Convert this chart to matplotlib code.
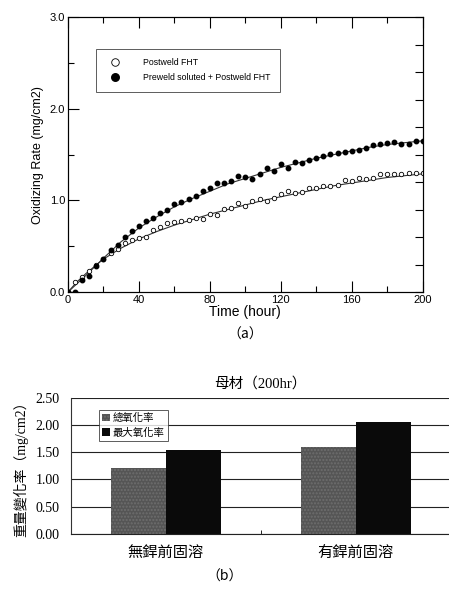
import numpy as np
import matplotlib
matplotlib.use("Agg")
import matplotlib.pyplot as plt
import matplotlib.ticker as tck

# ---- panel (a) data: oxidation vs time ----
hours = list(range(0, 201, 4))
postweld = [0.0, 0.11, 0.165, 0.23, 0.30, 0.36, 0.43, 0.47, 0.53, 0.57,
            0.59, 0.60, 0.68, 0.71, 0.75, 0.76, 0.78, 0.79, 0.81, 0.80,
            0.85, 0.84, 0.91, 0.92, 0.97, 0.94, 0.99, 1.01, 0.99, 1.03,
            1.07, 1.10, 1.08, 1.09, 1.13, 1.13, 1.16, 1.16, 1.17, 1.22,
            1.21, 1.24, 1.23, 1.24, 1.29, 1.29, 1.29, 1.29, 1.30, 1.30, 1.30]
preweld = [0.0, 0.0, 0.136, 0.17, 0.28, 0.36, 0.46, 0.51, 0.60, 0.67,
           0.72, 0.77, 0.81, 0.86, 0.89, 0.96, 0.98, 1.01, 1.05, 1.10,
           1.14, 1.19, 1.19, 1.21, 1.27, 1.25, 1.23, 1.29, 1.35, 1.32,
           1.40, 1.35, 1.42, 1.41, 1.44, 1.46, 1.48, 1.51, 1.52, 1.53,
           1.54, 1.55, 1.57, 1.60, 1.61, 1.63, 1.64, 1.62, 1.62, 1.65, 1.65]

# fitted curves
fit_t = [0, 5, 10, 20, 30, 40, 50, 60, 70, 80, 90, 100, 110, 120, 130,
         140, 150, 160, 170, 180, 190, 200]
fit_post = [0.0, 0.11, 0.20, 0.36, 0.48, 0.58, 0.66, 0.73, 0.79, 0.85, 0.90,
            0.95, 1.00, 1.04, 1.08, 1.12, 1.16, 1.19, 1.22, 1.25, 1.27, 1.29]
fit_pre = [0.0, 0.09, 0.18, 0.37, 0.55, 0.70, 0.82, 0.93, 1.02, 1.10, 1.18,
           1.24, 1.30, 1.36, 1.41, 1.46, 1.50, 1.54, 1.58, 1.61, 1.63, 1.65]

# ---- panel (b) data ----
groups = ["無銲前固溶", "有銲前固溶"]
total_ox = [1.21, 1.587]
max_ox = [1.54, 2.05]

narrow = ["Liberation Sans Narrow", "Liberation Sans", "DejaVu Sans"]
serif_cjk = ["Liberation Serif", "Noto Sans CJK TC", "DejaVu Sans"]
cjk_first = ["Noto Sans CJK TC", "DejaVu Sans"]

fig = plt.figure(figsize=(4.49, 5.90), dpi=100)

# ---------- (a) ----------
ax = fig.add_axes([0.1514, 0.505, 0.790, 0.466])
ax.plot(fit_t, fit_post, color="#333333", lw=0.8)
ax.plot(fit_t, fit_pre, color="#333333", lw=0.8)
ax.plot(hours, postweld, "o", mfc="white", mec="black", ms=3.2, mew=0.6,
        label="Postweld FHT")
ax.plot(hours, preweld, "o", mfc="black", mec="black", ms=3.2,
        label="Preweld soluted + Postweld FHT")
ax.set_xlim(0, 200)
ax.set_ylim(0, 3.0)
ax.xaxis.set_major_locator(tck.MultipleLocator(40))
ax.xaxis.set_minor_locator(tck.MultipleLocator(20))
ax.yaxis.set_major_locator(tck.MultipleLocator(1.0))
ax.yaxis.set_minor_locator(tck.MultipleLocator(0.5))
ax.yaxis.set_major_formatter(tck.FormatStrFormatter("%.1f"))
ax.tick_params(axis="both", which="major", direction="in", length=8,
               top=True, labelsize=8, pad=2, width=0.8)
ax.tick_params(axis="both", which="minor", direction="in", length=4,
               top=True, width=0.8)
for lab in ax.get_xticklabels() + ax.get_yticklabels():
    lab.set_family(narrow)
ax.set_xlabel("Time (hour)", family=narrow, fontsize=10, labelpad=0)
ax.set_ylabel("Oxidizing Rate (mg/cm2)", family=narrow, fontsize=9, labelpad=4)
for s in ax.spines.values():
    s.set_linewidth(0.8)
    s.set_color("#222222")

axr = ax.twinx()
axr.set_ylim(0, 3.0)
axr.set_yticks(np.arange(0, 3.01, 0.3))
axr.tick_params(axis="y", direction="in", length=6, labelright=False, width=0.8)

leg = ax.legend(loc="upper left", bbox_to_anchor=(0.08, 0.885), markerscale=1.7,
                frameon=True, fancybox=False, edgecolor="#333333",
                borderpad=1.1, handletextpad=2.2, labelspacing=0.7,
                borderaxespad=0, prop={"family": narrow, "size": 6.3})
leg.get_frame().set_linewidth(0.7)

fig.text(0.545, 0.432, "（a）", ha="center", va="center",
         family=cjk_first, fontsize=10)

# ---------- (b) ----------
bx = fig.add_axes([0.1575, 0.0954, 0.846, 0.2305])
pos = np.arange(len(groups)) + 0.5
w = 0.29
bx.set_axisbelow(True)
bx.grid(axis="y", color="#222222", lw=0.8)
bx.bar(pos - w / 2, total_ox, w, color="#555555", hatch=".....",
       edgecolor="#6e6e6e", lw=0, label="總氧化率")
bx.bar(pos + w / 2, max_ox, w, color="#0a0a0a", label="最大氧化率")
bx.set_xlim(0, 2)
bx.set_ylim(0, 2.5)
bx.set_yticks(np.arange(0, 2.51, 0.5))
bx.yaxis.set_major_formatter(tck.FormatStrFormatter("%.2f"))
bx.set_xticks(pos)
bx.set_xticklabels(groups, family=serif_cjk, fontsize=11)
bx.set_xticks([1], minor=True)
bx.tick_params(axis="x", which="major", length=0, pad=9)
bx.tick_params(axis="x", which="minor", direction="in", length=3)
bx.tick_params(axis="y", length=0, labelsize=10, pad=8)
for lab in bx.get_yticklabels():
    lab.set_family(serif_cjk)
for k in ("top", "right"):
    bx.spines[k].set_visible(False)
bx.spines["left"].set_color("#333333")
bx.spines["bottom"].set_color("#222222")
bx.set_title("母材（200hr）", family=serif_cjk, fontsize=10.5, pad=7)
bx.set_ylabel("重量變化率（mg/cm2）", family=serif_cjk, fontsize=10, labelpad=5)
lg = bx.legend(loc="upper left", bbox_to_anchor=(0.075, 0.91),
               frameon=True, fancybox=False, edgecolor="#333333",
               handlelength=0.7, handleheight=0.7, handletextpad=0.3,
               borderpad=0.3, labelspacing=0.4, borderaxespad=0,
               prop={"family": serif_cjk, "size": 7.5})
lg.get_frame().set_linewidth(0.7)

fig.text(0.5, 0.022, "（b）", ha="center", va="center",
         family=cjk_first, fontsize=10)

fig.savefig("out.png", dpi=100)
